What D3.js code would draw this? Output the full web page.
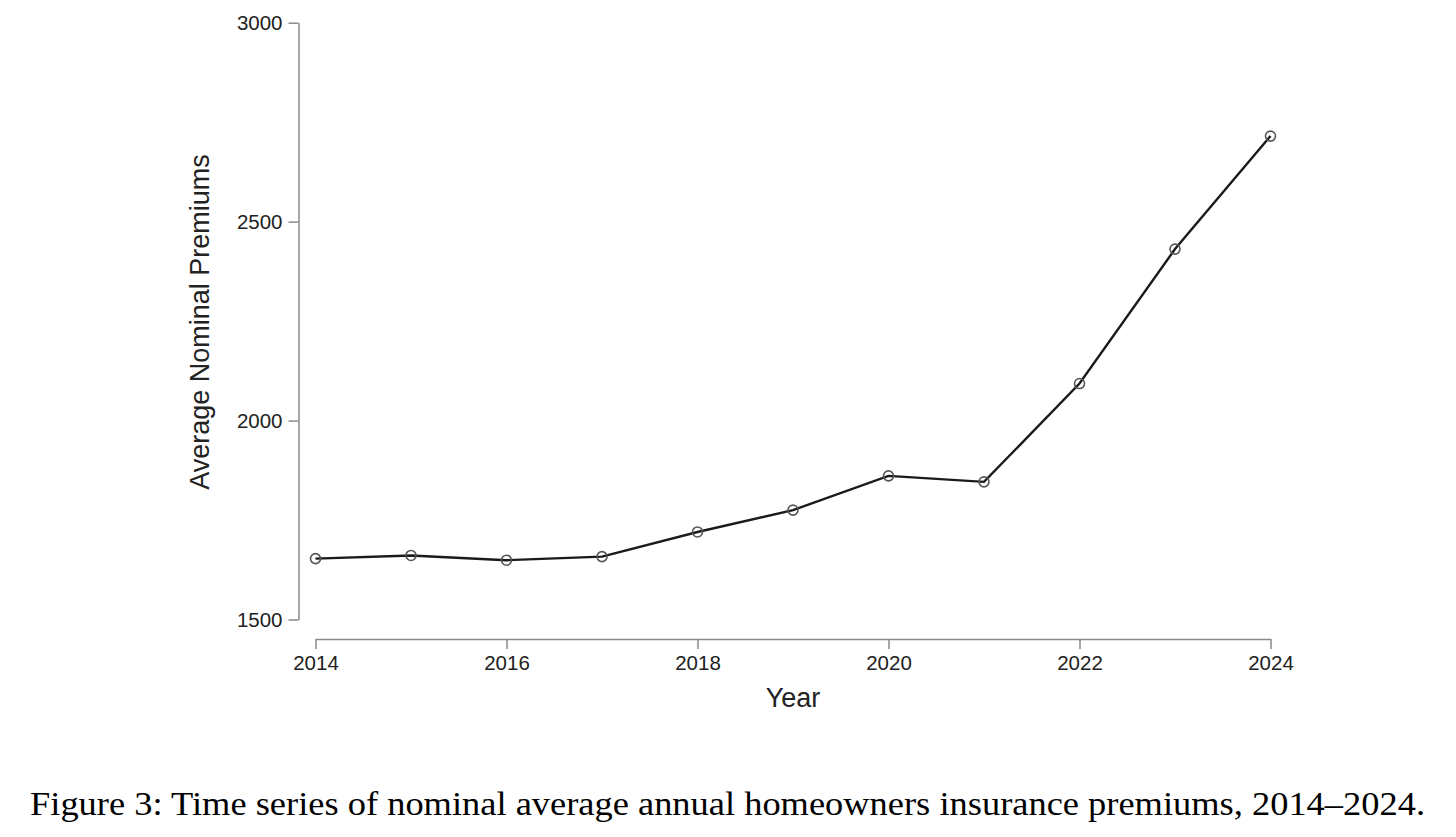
<!DOCTYPE html>
<html>
<head>
<meta charset="utf-8">
<script src="https://cdn.jsdelivr.net/npm/d3@7"></script>
<style>
  html, body { margin: 0; padding: 0; background: #fff; }
  svg { display: block; }
</style>
</head>
<body>
<svg id="chart" width="1456" height="837"></svg>
<script>
const years = [2014, 2015, 2016, 2017, 2018, 2019, 2020, 2021, 2022, 2023, 2024];
const premiums = [1653, 1661, 1649, 1658, 1720, 1775, 1861, 1846, 2093, 2431, 2715];
const xTicks = [2014, 2016, 2018, 2020, 2022, 2024];
const yTicks = [1500, 2000, 2500, 3000];
const xLabel = "Year";
const yLabel = "Average Nominal Premiums";
const caption = "Figure 3: Time series of nominal average annual homeowners insurance premiums, 2014–2024.";

const svg = d3.select("#chart");
const x = d3.scaleLinear().domain([2014, 2024]).range([315.5, 1270.5]);
const y = d3.scaleLinear().domain([1500, 3000]).range([619.5, 22.7]);
const axisColor = "#8a8a8a";
const sans = "Liberation Sans, Arial, Helvetica, sans-serif";

// Y axis
const yAxis = svg.append("g").attr("transform", "translate(298.5,0)")
  .call(d3.axisLeft(y).tickValues(yTicks).tickFormat(d3.format("d")).tickSize(10).tickPadding(6).tickSizeOuter(0));
yAxis.select(".domain").attr("stroke", axisColor).attr("stroke-width", 1.5);
yAxis.selectAll(".tick line").attr("stroke", axisColor).attr("stroke-width", 1.5);
yAxis.selectAll(".tick text").attr("fill", "#222").attr("font-family", sans).attr("font-size", 20.5);

// X axis
const xAxis = svg.append("g").attr("transform", "translate(0,639)")
  .call(d3.axisBottom(x).tickValues(xTicks).tickFormat(d3.format("d")).tickSize(10).tickPadding(6).tickSizeOuter(0));
xAxis.select(".domain").attr("stroke", axisColor).attr("stroke-width", 1.5);
xAxis.selectAll(".tick line").attr("stroke", axisColor).attr("stroke-width", 1.5);
xAxis.selectAll(".tick text").attr("fill", "#222").attr("font-family", sans).attr("font-size", 20.5);

// Axis titles
svg.append("text").attr("x", 793).attr("y", 707).attr("text-anchor", "middle")
  .attr("font-family", sans).attr("font-size", 27).attr("fill", "#222").text(xLabel);
svg.append("text").attr("transform", "translate(209,322) rotate(-90)").attr("text-anchor", "middle")
  .attr("font-family", sans).attr("font-size", 27).attr("fill", "#222").text(yLabel);

// Line
const data = years.map((yr, i) => ({ yr, v: premiums[i] }));
svg.append("path").datum(data)
  .attr("fill", "none").attr("stroke", "#1a1a1a").attr("stroke-width", 2.4)
  .attr("d", d3.line().x(d => x(d.yr)).y(d => y(d.v)));

// Points
svg.append("g").selectAll("circle").data(data).join("circle")
  .attr("cx", d => x(d.yr)).attr("cy", d => y(d.v)).attr("r", 5)
  .attr("fill", "none").attr("stroke", "#555").attr("stroke-width", 1.6);

// Caption
svg.append("text").attr("x", 30).attr("y", 815)
  .attr("textLength", 1395).attr("lengthAdjust", "spacingAndGlyphs")
  .attr("font-family", "Liberation Serif, Times New Roman, Times, serif").attr("font-size", 33)
  .attr("fill", "#000").text(caption);
</script>
</body>
</html>
